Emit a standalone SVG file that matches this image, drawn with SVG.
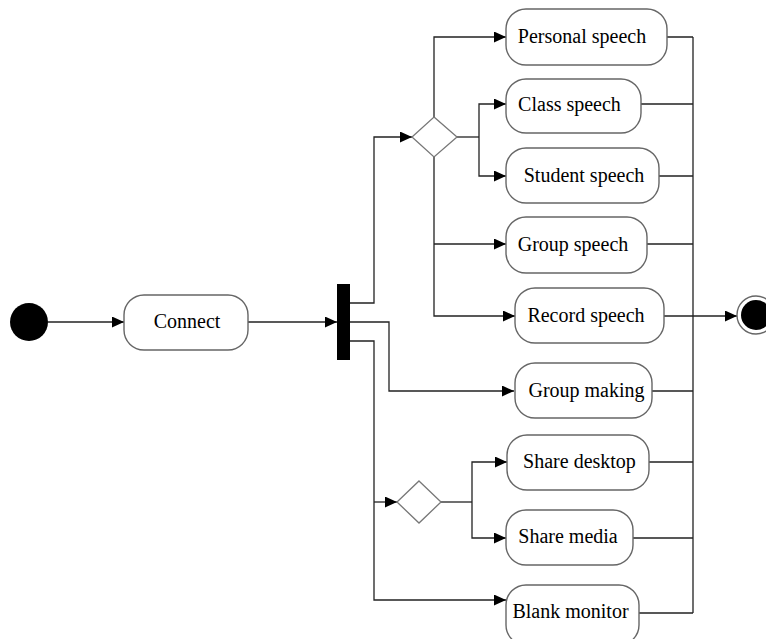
<svg xmlns="http://www.w3.org/2000/svg" width="766" height="639" viewBox="0 0 766 639">
<style>
.node rect{fill:#fff;stroke:#666;stroke-width:1.4}
.node text{font-family:"Liberation Serif","Times New Roman",serif;font-size:20px;fill:#000;text-anchor:middle}
.dec polygon{fill:#fff;stroke:#777;stroke-width:1.3}
#connectors path{fill:none;stroke:#222;stroke-width:1.3}
.arr{marker-end:url(#ah)}
</style>
<defs>
<marker id="ah" markerUnits="userSpaceOnUse" markerWidth="12" markerHeight="11" refX="12" refY="5.5" orient="auto">
<path d="M0,0 L12,5.5 L0,11 z" fill="#000"/>
</marker>
</defs>
<rect width="766" height="639" fill="#fff"/>
<g id="connectors">
<path class="arr" d="M48,322 H124"/>
<path class="arr" d="M248,322 H337"/>
<path class="arr" d="M350,303 H374 V137 H412"/>
<path class="arr" d="M350,322 H389 V391 H514"/>
<path class="arr" d="M350,341 H374 V600 H506"/>
<path class="arr" d="M374,502 H397"/>
<path class="arr" d="M434,117 V37 H506"/>
<path d="M457,137 H479"/>
<path class="arr" d="M479,137 V104 H506"/>
<path class="arr" d="M479,137 V176 H506"/>
<path class="arr" d="M434,156 V316 H515"/>
<path class="arr" d="M434,244 H506"/>
<path d="M441,502 H472"/>
<path class="arr" d="M472,502 V462 H507"/>
<path class="arr" d="M472,502 V538 H506"/>
<path d="M667,37 H693 M641,104 H693 M659,176 H693 M647,244 H693 M652,391 H693 M649,462 H693 M633,538 H693 M639,613 H693 M693,37 V613"/>
<path class="arr" d="M664,316 H737"/>
</g>
<g id="start"><circle cx="29" cy="322" r="19" fill="#000"/></g>
<g id="end"><circle cx="756" cy="315" r="19" fill="#fff" stroke="#666" stroke-width="1.4"/><circle cx="756" cy="315" r="15" fill="#000"/></g>
<g id="fork"><rect x="337" y="284" width="13" height="76" fill="#000"/></g>
<g id="decision1" class="dec"><polygon points="434,117 457,137 434,157 412,137"/></g>
<g id="decision2" class="dec"><polygon points="419,481 441,502 419,523 397,502"/></g>
<g id="connect" class="node"><rect x="124" y="295" width="124" height="55" rx="20"/><text x="187" y="328">Connect</text></g>
<g id="personal" class="node"><rect x="506" y="9" width="161" height="56" rx="20"/><text x="582" y="43">Personal speech</text></g>
<g id="class" class="node"><rect x="506" y="79" width="135" height="54" rx="20"/><text x="569.5" y="111">Class speech</text></g>
<g id="student" class="node"><rect x="506" y="148" width="153" height="55" rx="20"/><text x="584" y="182">Student speech</text></g>
<g id="groupspeech" class="node"><rect x="506" y="217" width="141" height="56" rx="20"/><text x="573" y="251">Group speech</text></g>
<g id="record" class="node"><rect x="515" y="288" width="149" height="55" rx="20"/><text x="586" y="322">Record speech</text></g>
<g id="groupmaking" class="node"><rect x="515" y="363" width="137" height="55" rx="20"/><text x="586.5" y="397">Group making</text></g>
<g id="sharedesktop" class="node"><rect x="507" y="435" width="142" height="55" rx="20"/><text x="579.5" y="468">Share desktop</text></g>
<g id="sharemedia" class="node"><rect x="506" y="510" width="127" height="55" rx="20"/><text x="568" y="543">Share media</text></g>
<g id="blankmonitor" class="node"><rect x="506" y="585" width="133" height="60" rx="20"/><text x="570.5" y="618">Blank monitor</text></g>
</svg>
